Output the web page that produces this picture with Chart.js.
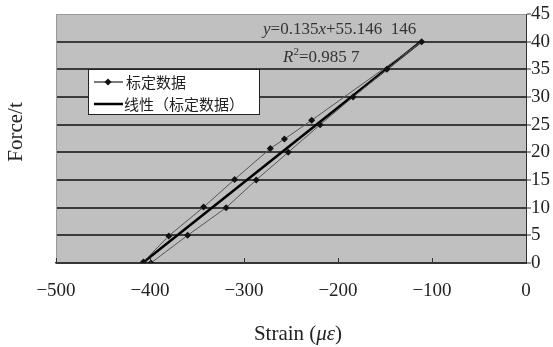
<!DOCTYPE html>
<html>
<head>
<meta charset="utf-8">
<script src="https://cdn.jsdelivr.net/npm/chart.js@4/dist/chart.umd.min.js"></script>
<style>
  html, body { margin: 0; padding: 0; background: #fff; }
  #wrap { width: 553px; height: 347px; position: relative; }
</style>
</head>
<body>
<div id="wrap"><canvas id="c"></canvas></div>
<script>
// datos
const strain = [-399, -360, -319, -287, -253, -219, -184, -148, -111, -228, -257, -272, -310, -343, -380, -407];
const force  = [0, 5, 10, 15, 20, 25, 30, 35, 40, 25.8, 22.4, 20.7, 15.1, 10.1, 4.9, 0.2];

// linea de tendencia (extremos)
const fitStrain = [-408, -112];
const fitForce  = [0, 40];

const xTickLabels = ['\u2212500', '\u2212400', '\u2212300', '\u2212200', '\u2212100', '0'];
const legendLabels = ['标定数据', '线性（标定数据）'];
const eqText = ['y', '=0.135', 'x', '+55.146  146'];
const r2Text = ['R', '2', '=0.985 7'];
const xTitle = ['Strain (', 'με', ')'];
const yTitle = 'Force/t';

const SERIF = "'Liberation Serif', 'DejaVu Serif', serif";
const CJK = "'Noto Sans CJK SC', sans-serif";

function toPoints(xs, ys) {
    return xs.map(function(x, i) { return { x: x, y: ys[i] }; });
}

// dibuja trozos de texto con fuentes distintas en una linea
function drawRuns(ctx, runs, x, y) {
    runs.forEach(function(r) {
        ctx.font = r.font;
        ctx.fillText(r.text, x, y + (r.dy || 0));
        x += ctx.measureText(r.text).width;
    });
}

const decoPlugin = {
    id: 'deco',
    beforeDraw: function(chart) {
        const ctx = chart.ctx;
        const a = chart.chartArea;
        ctx.save();
        ctx.fillStyle = '#c0c0c0';
        ctx.fillRect(a.left, a.top, a.right - a.left, a.bottom - a.top);
        ctx.restore();
    },
    afterDraw: function(chart) {
        const ctx = chart.ctx;
        const a = chart.chartArea;
        const xs = chart.scales.x;
        ctx.save();

        // bordes claros arriba e izquierda
        ctx.strokeStyle = '#9a9a9a';
        ctx.lineWidth = 1;
        ctx.beginPath();
        ctx.moveTo(a.left + 0.5, a.bottom);
        ctx.lineTo(a.left + 0.5, a.top + 0.5);
        ctx.lineTo(a.right, a.top + 0.5);
        ctx.stroke();

        // marcas del eje x hacia dentro
        ctx.strokeStyle = '#333';
        ctx.beginPath();
        xs.ticks.forEach(function(t) {
            const px = Math.round(xs.getPixelForValue(t.value)) + 0.5;
            ctx.moveTo(px, a.bottom);
            ctx.lineTo(px, a.bottom - 5);
        });
        ctx.stroke();

        // ecuacion y R2
        ctx.fillStyle = '#333';
        ctx.textBaseline = 'middle';
        ctx.textAlign = 'left';
        drawRuns(ctx, [
            { text: eqText[0], font: 'italic 17px ' + SERIF },
            { text: eqText[1], font: '17px ' + SERIF },
            { text: eqText[2], font: 'italic 17px ' + SERIF },
            { text: eqText[3], font: '17px ' + SERIF }
        ], 263, 30);
        drawRuns(ctx, [
            { text: r2Text[0], font: 'italic 17px ' + SERIF },
            { text: r2Text[1], font: '11px ' + SERIF, dy: -6 },
            { text: r2Text[2], font: '17px ' + SERIF }
        ], 283, 58);

        // leyenda
        const lx = 88, ly = 69, lw = 171, lh = 45;
        ctx.fillStyle = '#fff';
        ctx.fillRect(lx, ly, lw, lh);
        ctx.strokeStyle = '#222';
        ctx.lineWidth = 1;
        ctx.strokeRect(lx + 0.5, ly + 0.5, lw, lh);

        ctx.strokeStyle = '#222';
        ctx.lineWidth = 1.2;
        ctx.beginPath();
        ctx.moveTo(94, 82);
        ctx.lineTo(123, 82);
        ctx.stroke();
        ctx.fillStyle = '#111';
        ctx.beginPath();
        ctx.moveTo(108, 78.5);
        ctx.lineTo(111.5, 82);
        ctx.lineTo(108, 85.5);
        ctx.lineTo(104.5, 82);
        ctx.closePath();
        ctx.fill();

        ctx.strokeStyle = '#000';
        ctx.lineWidth = 2.5;
        ctx.beginPath();
        ctx.moveTo(94, 104);
        ctx.lineTo(123, 104);
        ctx.stroke();

        ctx.fillStyle = '#222';
        ctx.font = '15px ' + CJK;
        ctx.fillText(legendLabels[0], 126, 82);
        ctx.fillText(legendLabels[1], 124, 104);

        // titulo eje x
        ctx.fillStyle = '#222';
        ctx.font = '21px ' + SERIF;
        let w = ctx.measureText(xTitle[0]).width + ctx.measureText(xTitle[2]).width;
        ctx.font = 'italic 21px ' + SERIF;
        w += ctx.measureText(xTitle[1]).width;
        drawRuns(ctx, [
            { text: xTitle[0], font: '21px ' + SERIF },
            { text: xTitle[1], font: 'italic 21px ' + SERIF },
            { text: xTitle[2], font: '21px ' + SERIF }
        ], 298 - w / 2, 334);

        // titulo eje y
        ctx.translate(16, 132);
        ctx.rotate(-Math.PI / 2);
        ctx.textAlign = 'center';
        ctx.font = '21px ' + SERIF;
        ctx.fillText(yTitle, 0, 0);
        ctx.restore();
    }
};

new Chart(document.getElementById('c'), {
    type: 'scatter',
    data: {
        datasets: [
            {
                label: legendLabels[0],
                data: toPoints(strain, force),
                showLine: true,
                borderColor: '#555',
                borderWidth: 1,
                pointStyle: 'rectRot',
                pointRadius: 3.5,
                pointBackgroundColor: '#111',
                pointBorderColor: '#111',
                pointBorderWidth: 0
            },
            {
                label: legendLabels[1],
                data: toPoints(fitStrain, fitForce),
                showLine: true,
                borderColor: '#000',
                borderWidth: 2.5,
                pointRadius: 0
            }
        ]
    },
    options: {
        responsive: true,
        maintainAspectRatio: false,
        animation: false,
        layout: {
            padding: { left: 56, top: 14, right: 0, bottom: 0 }
        },
        plugins: {
            legend: { display: false },
            tooltip: { enabled: false }
        },
        scales: {
            x: {
                type: 'linear',
                min: -500,
                max: 0,
                afterFit: function(s) { s.height = 84; },
                grid: { display: false, drawTicks: false },
                border: { display: true, color: '#333', width: 1.5 },
                ticks: {
                    stepSize: 100,
                    padding: 17,
                    color: '#222',
                    font: { size: 19, family: SERIF },
                    callback: function(value) {
                        return xTickLabels[Math.round((value + 500) / 100)];
                    }
                }
            },
            y: {
                position: 'right',
                min: 0,
                max: 45,
                afterFit: function(s) { s.width = 27; },
                grid: {
                    color: function(c) {
                        return c.tick && c.tick.value === 45 ? 'rgba(0,0,0,0)' : '#3c3c3c';
                    },
                    lineWidth: 2,
                    drawTicks: true,
                    tickLength: 5,
                    tickColor: '#333',
                    tickWidth: 1
                },
                border: { display: true, color: '#333', width: 1 },
                ticks: {
                    stepSize: 5,
                    padding: 0,
                    color: '#222',
                    font: { size: 19, family: SERIF }
                }
            }
        }
    },
    plugins: [decoPlugin]
});
</script>
</body>
</html>
